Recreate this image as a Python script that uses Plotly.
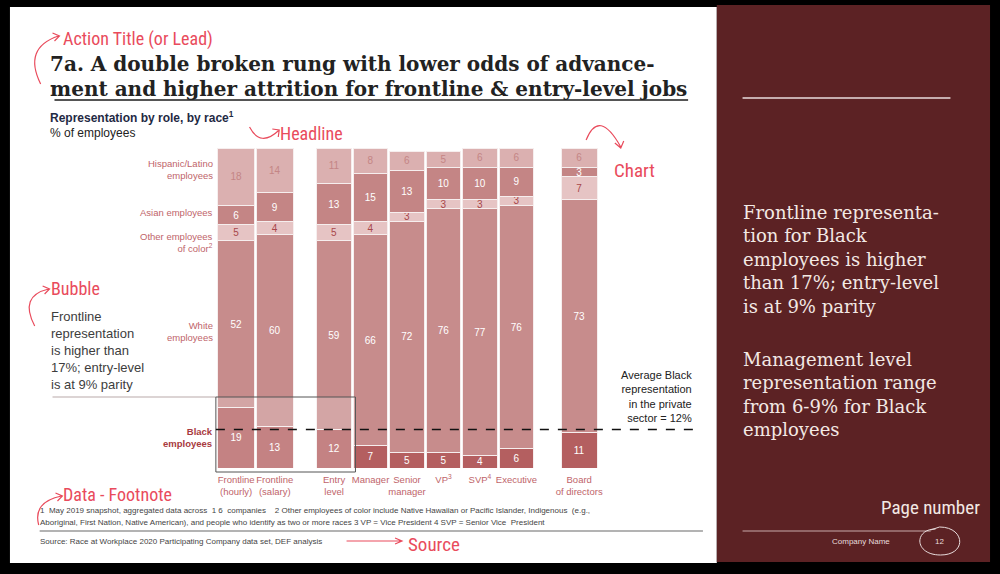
import plotly.graph_objects as go

# ---------------- data ----------------
categories = ["Frontline<br>(hourly)", "Frontline<br>(salary)", "Entry<br>level", "Manager",
              "Senior<br>manager", "VP<sup>3</sup>", "SVP<sup>4</sup>", "Executive",
              "Board<br>of directors"]
black_pct = [19, 13, 12, 7, 5, 5, 4, 6, 11]
white_pct = [52, 60, 59, 66, 72, 76, 77, 76, 73]
other_pct = [5, 4, 5, 4, 3, 3, 3, 3, 7]
asian_pct = [6, 9, 13, 15, 13, 10, 10, 9, 3]
hispanic_pct = [18, 14, 11, 8, 6, 5, 6, 6, 6]
avg_black_private_sector = 12

# category groups (frontline, management pipeline, board)
group_bounds = [(0, 2), (2, 8), (8, 9)]

W, H = 1000, 574


def px(x):
    return x / W


def py(y):
    return 1 - y / H


def pt(x, y):
    return f"{px(x):.4f},{py(y):.4f}"


series = [
    ("Black", black_pct, "#b45f60", "#ffffff"),
    ("White", white_pct, "#c78c8c", "#ffffff"),
    ("Other", other_pct, "#e6c4c4", "#a8474a"),
    ("Asian", asian_pct, "#c48585", "#ffffff"),
    ("Hispanic", hispanic_pct, "#dbb0b0", "#c48585"),
]

axis_names = ["x", "x2", "x3"]
domains = [(px(214), px(292)), (px(314), px(535)), (px(561), px(599))]

fig = go.Figure()
for name, vals, col, tcol in series:
    for (a, b), ax in zip(group_bounds, axis_names):
        fig.add_trace(go.Bar(
            x=categories[a:b], y=vals[a:b], name=name, xaxis=ax, yaxis="y",
            marker=dict(color=col, line=dict(color="#f6eeee", width=1)),
            text=[str(v) for v in vals[a:b]], textposition="inside", textangle=0,
            insidetextanchor="middle", constraintext="none",
            textfont=dict(family="Liberation Sans, Arial, sans-serif", size=10, color=tcol),
            showlegend=False, hoverinfo="skip"))

tickfont = dict(family="Liberation Sans, Arial, sans-serif", size=9.5, color="#c0646a")
layout_axes = {}
for i, (ax, dom) in enumerate(zip(axis_names, domains)):
    key = "xaxis" if i == 0 else f"xaxis{i+1}"
    layout_axes[key] = dict(domain=list(dom), anchor="y", type="category",
                            showgrid=False, zeroline=False, showline=False,
                            ticks="", tickangle=0, tickfont=tickfont, fixedrange=True,
                            ticklabelstandoff=4)

fig.update_layout(
    width=W, height=H, margin=dict(l=0, r=0, t=0, b=0),
    paper_bgcolor="#000000", plot_bgcolor="rgba(0,0,0,0)",
    barmode="stack", bargap=0.05,
    yaxis=dict(domain=[py(468), py(148)], range=[0, 100], visible=False, fixedrange=True),
    **layout_axes)

shapes = []
# slide backgrounds
shapes.append(dict(type="rect", xref="paper", yref="paper", x0=px(5), x1=px(719), y0=py(563), y1=py(7),
                   fillcolor="#ffffff", line=dict(width=0), layer="below"))
shapes.append(dict(type="rect", xref="paper", yref="paper", x0=px(719), x1=px(995), y0=py(562), y1=py(5),
                   fillcolor="#5c2224", line=dict(width=0), layer="below"))
# title underline
shapes.append(dict(type="line", xref="paper", yref="paper", x0=px(50), x1=px(690), y0=py(100), y1=py(100),
                   line=dict(color="#555555", width=2)))
# bubble underline
shapes.append(dict(type="line", xref="paper", yref="paper", x0=px(48), x1=px(213), y0=py(397), y1=py(397),
                   line=dict(color="#b9a9a9", width=1)))
# highlight box
shapes.append(dict(type="rect", xref="paper", yref="paper", x0=px(213), x1=px(354), y0=py(472), y1=py(397),
                   fillcolor="rgba(255,255,255,0.22)", line=dict(color="#555555", width=1), layer="above"))
# average line
shapes.append(dict(type="line", xref="paper", yref="y", x0=px(213), x1=px(695),
                   y0=avg_black_private_sector, y1=avg_black_private_sector,
                   line=dict(color="#111111", width=1.5, dash="dash")))
# footnote separator
shapes.append(dict(type="line", xref="paper", yref="paper", x0=px(35), x1=px(705), y0=py(531), y1=py(531),
                   line=dict(color="#9a9a9a", width=1.5)))
# right panel lines
shapes.append(dict(type="line", xref="paper", yref="paper", x0=px(745), x1=px(955), y0=py(98), y1=py(98),
                   line=dict(color="#e8dcdc", width=1.5)))
shapes.append(dict(type="line", xref="paper", yref="paper", x0=px(745), x1=px(935), y0=py(531), y1=py(531),
                   line=dict(color="#c8aaaa", width=1)))
# page number circle
shapes.append(dict(type="path", xref="paper", yref="paper",
                   path=f"M {pt(940,529)} C {pt(918,529)} {pt(918,555)} {pt(945,555)} "
                        f"C {pt(972,555)} {pt(970,527)} {pt(944,527)} L {pt(935,530)}",
                   line=dict(color="#e8dcdc", width=1)))

# handwritten arrows
pink = "#e94b5c"
arrow_paths = [
    # action title
    f"M {pt(36,84)} Q {pt(18,48)} {pt(54,36)} M {pt(48,33)} L {pt(55,36)} L {pt(50,41)}",
    # headline
    f"M {pt(247,127)} Q {pt(258,148)} {pt(277,130)} M {pt(270,129)} L {pt(277,130)} L {pt(276,137)}",
    # chart
    f"M {pt(587,140)} Q {pt(600,108)} {pt(622,147)} M {pt(616,143)} L {pt(622,148)} L {pt(625,141)}",
    # bubble
    f"M {pt(30,326)} Q {pt(14,296)} {pt(44,289)} M {pt(38,286)} L {pt(45,289)} L {pt(40,294)}",
    # data - footnote
    f"M {pt(34,525)} Q {pt(28,502)} {pt(57,496)} M {pt(51,493)} L {pt(58,496)} L {pt(53,501)}",
    # source
    f"M {pt(345,541)} L {pt(400,541)} M {pt(394,538)} L {pt(401,541)} L {pt(394,544)}",
]
for p in arrow_paths:
    shapes.append(dict(type="path", xref="paper", yref="paper", path=p,
                       line=dict(color=pink, width=1.2)))

fig.update_layout(shapes=shapes)

ann = []


def add_text(x, y, text, size, color, family="Liberation Sans, Arial, sans-serif",
             xanchor="left", yanchor="middle", align="left"):
    ann.append(dict(x=px(x), y=py(y), xref="paper", yref="paper", text=text, showarrow=False,
                    xanchor=xanchor, yanchor=yanchor, align=align, borderpad=0,
                    font=dict(size=size, color=color, family=family)))


hand = "Liberation Sans Narrow, Roboto Condensed, Arial Narrow, sans-serif"
serif = "DejaVu Serif, Georgia, serif"

add_text(58, 39, "Action Title (or Lead)", 18, pink, hand)
add_text(44, 64, "<b>7a. A double broken rung with lower odds of advance-</b>", 20, "#222222", serif)
add_text(44, 89, "<b>ment and higher attrition for frontline & entry-level jobs</b>", 20, "#222222", serif)
add_text(44, 117, "<b>Representation by role, by race<sup>1</sup></b>", 12, "#1f2a44")
add_text(44, 133, "% of employees", 12, "#222222")
add_text(277, 133, "Headline", 18, pink, hand)
add_text(614, 170, "Chart", 19, pink, hand)
add_text(45, 288, "Bubble", 18, pink, hand)
add_text(45, 350, "Frontline<br>representation<br>is higher than<br>17%; entry-level<br>is at 9% parity",
         13, "#3d3d3d")
add_text(58, 494, "Data - Footnote", 18, pink, hand)
add_text(406, 544, "Source", 19, pink, hand)

# race labels
lab_col = "#c0646a"
add_text(211, 169, "Hispanic/Latino<br>employees", 9.5, lab_col, xanchor="right", align="right")
add_text(211, 213, "Asian employees", 9.5, lab_col, xanchor="right", align="right")
add_text(211, 243, "Other employees<br>of color<sup>2</sup>", 9.5, lab_col, xanchor="right", align="right")
add_text(211, 331, "White<br>employees", 9.5, lab_col, xanchor="right", align="right")
add_text(211, 438, "<b>Black<br>employees</b>", 9.5, "#a83a40", xanchor="right", align="right")

add_text(695, 396, f"Average Black<br>representation<br>in the private<br>sector = {avg_black_private_sector}%",
         11, "#222222", xanchor="right", align="right")

add_text(34, 510, "1  May 2019 snapshot, aggregated data across  1 6  companies    2 Other employees of color include "
         "Native Hawaiian or Pacific Islander, Indigenous  (e.g.,", 8, "#444444")
add_text(34, 522, "Aboriginal, First Nation, Native American), and people who identify as two or more races "
         "3 VP = Vice President 4 SVP = Senior Vice  President", 8, "#444444")
add_text(34, 541, "Source: Race at Workplace 2020 Participating Company data set, DEF analysis", 8, "#444444")

# right panel
panel_col = "#f3e9e4"
add_text(744, 259, "Frontline representa-<br>tion for Black<br>employees is higher<br>than 17%; entry-level<br>is at 9% parity",
         18, panel_col, serif)
add_text(744, 394, "Management level<br>representation range<br>from 6-9% for Black<br>employees",
         18, panel_col, serif)
add_text(884, 507, "Page number", 19, "#f3e9e4", hand)
add_text(865, 541, "Company Name", 8, "#e8dcdc", xanchor="center")
add_text(944, 541, "12", 8, "#e8dcdc", xanchor="center")

fig.update_layout(annotations=ann)

fig.write_html("out.html")
